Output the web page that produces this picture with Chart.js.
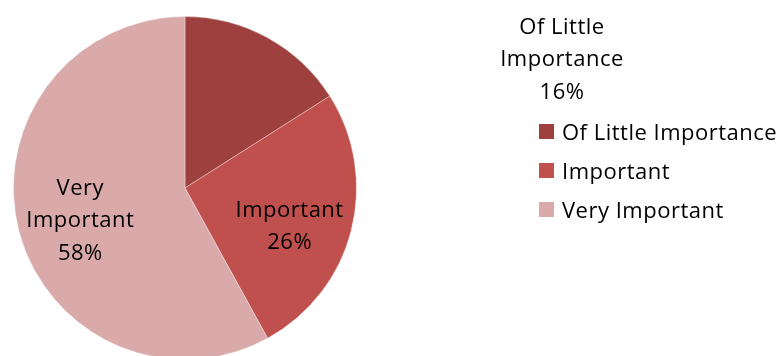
<!DOCTYPE html>
<html>
<head>
<meta charset="utf-8">
<script src="https://cdn.jsdelivr.net/npm/chart.js@4"></script>
<style>
  html, body { margin: 0; padding: 0; background: #fff; overflow: hidden; }
  #wrap { position: relative; width: 781px; height: 362px; }
</style>
</head>
<body>
<div id="wrap"><canvas id="chart"></canvas></div>
<script>
const categories = ['Of Little Importance', 'Important', 'Very Important'];
const percents = [16, 26, 58];
const colors = ['#9E403E', '#C0504D', '#D9AAA9'];

const FONT = '22px "Open Sans", sans-serif';

function setFont(ctx) {
    ctx.font = FONT;
    ctx.letterSpacing = '0.5px';
}

// slice labels: name split over lines + percent
const pieLabels = {
    id: 'pieLabels',
    afterDatasetsDraw(chart) {
        const ctx = chart.ctx;
        const meta = chart.getDatasetMeta(0);
        ctx.save();
        setFont(ctx);
        ctx.fillStyle = '#000';
        ctx.textAlign = 'center';
        ctx.textBaseline = 'middle';
        meta.data.forEach((arc, i) => {
            let lines;
            let x, y;
            if (i === 0) {
                // small slice, label set outside to the right
                lines = ['Of Little', 'Importance', percents[i] + '%'];
                x = 562; y = 60;
            } else {
                const mid = (arc.startAngle + arc.endAngle) / 2;
                const r = arc.outerRadius * 0.63;
                x = arc.x + Math.cos(mid) * r;
                y = arc.y + Math.sin(mid) * r + 2;
                if (i === 1) { lines = ['Important', percents[i] + '%']; y += 10; }
                else { lines = ['Very', 'Important', percents[i] + '%']; y += 4; }
            }
            const lh = 32.5;
            const top = y - (lines.length - 1) * lh / 2;
            lines.forEach((t, k) => ctx.fillText(t, x, top + k * lh));
        });
        ctx.restore();
    }
};

// legend on the right
const sideLegend = {
    id: 'sideLegend',
    afterDraw(chart) {
        const ctx = chart.ctx;
        ctx.save();
        setFont(ctx);
        ctx.textBaseline = 'middle';
        ctx.textAlign = 'left';
        chart.data.labels.forEach((lab, i) => {
            const cy = 132 + i * 39;
            ctx.fillStyle = colors[i];
            ctx.fillRect(539, cy - 8, 15, 15);
            ctx.fillStyle = '#000';
            ctx.fillText(lab, 562, cy + 2);
        });
        ctx.restore();
    }
};

new Chart(document.getElementById('chart'), {
    type: 'pie',
    data: {
        labels: categories,
        datasets: [{
            data: percents,
            backgroundColor: colors,
            borderColor: 'rgba(255,255,255,0.35)',
            borderWidth: 1
        }]
    },
    options: {
        responsive: true,
        maintainAspectRatio: false,
        animation: false,
        layout: { padding: { left: 13, top: 16, bottom: 2, right: 424 } },
        plugins: {
            legend: { display: false },
            tooltip: { enabled: false }
        }
    },
    plugins: [pieLabels, sideLegend]
});
</script>
</body>
</html>
